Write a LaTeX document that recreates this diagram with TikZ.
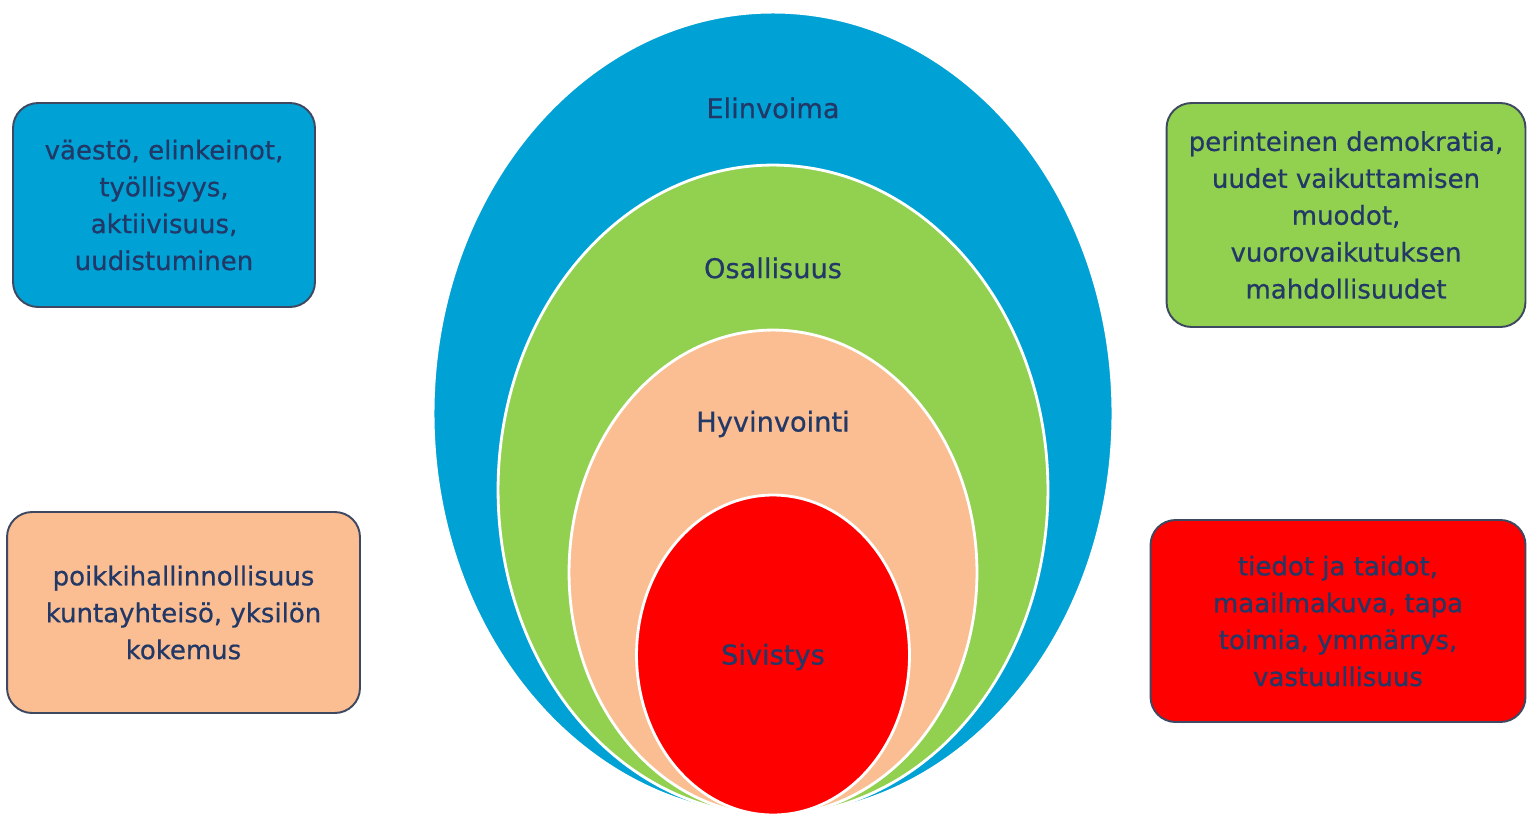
\documentclass[tikz,border=0pt]{standalone}
\usepackage{fontspec}
\setmainfont{DejaVu Sans}[FakeBold=0.6]
\usepackage{tikz}
\usetikzlibrary{shapes.geometric, positioning}
\definecolor{elinvoimacolor}{RGB}{0,162,214}
\definecolor{osallisuuscolor}{RGB}{146,208,80}
\definecolor{hyvinvointicolor}{RGB}{250,190,146}
\definecolor{sivistyscolor}{RGB}{255,0,0}
\definecolor{labelcolor}{RGB}{34,56,102}
\definecolor{bordercolor}{RGB}{62,72,96}

\begin{document}
\begin{tikzpicture}[
    x=0.02cm, y=-0.02cm,
    ring/.style={ellipse, draw=white, line width=1.6pt, inner sep=0pt},
    ringlabel/.style={text=labelcolor, font=\fontsize{15.5}{19}\selectfont},
    infobox/.style={draw=bordercolor, line width=1.1pt, rounded corners=0.5cm, text=labelcolor, align=center, inner sep=0pt, font=\fontsize{14.8}{21}\selectfont}
]
\useasboundingbox (0,0) rectangle (1527,818);

% Nested ellipses
\node[ring, fill=elinvoimacolor, minimum width=13.6cm, minimum height=16.06cm] (elinvoima) at (773,413.5) {};
\node[ring, fill=osallisuuscolor, minimum width=11cm, minimum height=13cm] (osallisuus) at (773,490) {};
\node[ring, fill=hyvinvointicolor, minimum width=8.16cm, minimum height=9.7cm] (hyvinvointi) at (773,572.5) {};
\node[ring, fill=sivistyscolor, minimum width=5.46cm, minimum height=6.4cm] (sivistys) at (773,655) {};

% Ellipse labels
\node[ringlabel] (elinvoimalabel) at (773,108) {Elinvoima};
\node[ringlabel] (osallisuuslabel) at (773,268) {Osallisuus};
\node[ringlabel] (hyvinvointilabel) at (773,424) {Hyvinvointi};
\node[ringlabel] (sivistyslabel) at (773,657) {Sivistys};

% Side boxes
\node[infobox, fill=elinvoimacolor, minimum width=6.04cm, minimum height=4.08cm] (elinvoimabox) at (164,205)
    {väestö, elinkeinot,\\työllisyys,\\aktiivisuus,\\uudistuminen};
\node[infobox, fill=osallisuuscolor, minimum width=7.18cm, minimum height=4.48cm] (osallisuusbox) at (1346,215)
    {perinteinen demokratia,\\uudet vaikuttamisen\\muodot,\\vuorovaikutuksen\\mahdollisuudet};
\node[infobox, fill=hyvinvointicolor, minimum width=7.06cm, minimum height=4.02cm] (hyvinvointibox) at (183.5,612.5)
    {poikkihallinnollisuus\\kuntayhteisö, yksilön\\kokemus};
\node[infobox, fill=sivistyscolor, minimum width=7.5cm, minimum height=4.04cm] (sivistysbox) at (1338,621)
    {tiedot ja taidot,\\maailmakuva, tapa\\toimia, ymmärrys,\\vastuullisuus};

\end{tikzpicture}
\end{document}
